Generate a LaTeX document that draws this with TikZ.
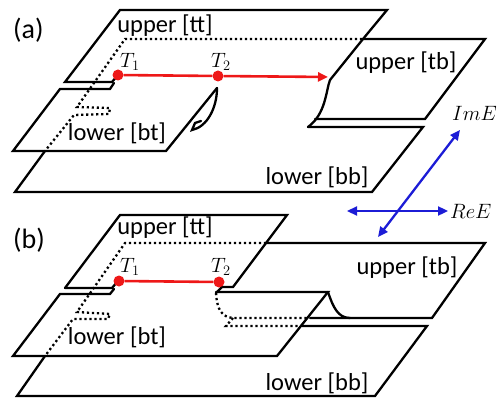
\documentclass[tikz,border=0pt]{standalone}
\usepackage{fontspec}
\setmainfont{Carlito}
\usetikzlibrary{arrows.meta}
\definecolor{cutred}{RGB}{238,24,24}
\definecolor{axblue}{RGB}{28,28,214}
\begin{document}
\begin{tikzpicture}[x=1pt,y=-1pt,
  edge/.style={line width=2.3pt, line join=miter, line cap=round},
  hid/.style={line width=2.3pt, dash pattern=on 2.2pt off 2.8pt},
  cutline/.style={line width=2.6pt, draw=cutred},
  dotpt/.style={circle, fill=cutred, inner sep=0pt, minimum size=11pt},
  axis/.style={line width=2.3pt, draw=axblue, {Triangle[length=10pt,width=9pt]}-{Triangle[length=10pt,width=9pt]}},
  lbl/.style={font=\fontsize{24.5}{26}\selectfont, inner sep=0pt},
  plbl/.style={font=\fontsize{28}{30}\selectfont, inner sep=0pt, anchor=west},
  mlbl/.style={font=\fontsize{22}{24}\selectfont, inner sep=0pt, anchor=base west},
  alabel/.style={font=\fontsize{20.5}{22}\selectfont, inner sep=0pt, anchor=base west},
]
\useasboundingbox (0,0) rectangle (500,398);

% ================= panel (a) =================
\begin{scope}
  % upper [tt]
  \draw[edge] (363,39) -- (387,10) -- (120,10) -- (65,82) -- (112,82) -- (118,75);
  % lower [bt]
  \draw[edge] (114,83) -- (110,89) -- (60,89) -- (13,151) -- (166,151) -- (217,88);
  \draw[edge] (217,88) .. controls (217,108) and (207,127) .. (192,130) -- (195,123) -- (201,121);
  % upper [tb]
  \draw[edge] (330,80) -- (363,39) -- (485,39) -- (425,119) -- (315,119);
  \draw[edge] (330,80) .. controls (326,90) and (326,114) .. (308,127);
  % lower [bb]
  \draw[edge] (308,127) -- (423,127) -- (372,192) -- (15,192) -- (45,151);
  % hidden edges
  \draw[hid] (362,39) -- (125,39) -- (77,107) -- (110,108) -- (109,114) -- (74,115) -- (45,151);
  % branch cut
  \node[dotpt] (aT1) at (118,75) {};
  \node[dotpt] (aT2) at (218,76) {};
  \coordinate (aEnd) at (328,77);
  \draw[cutline] (aT1) -- (aT2);
  \draw[cutline, -{Triangle[length=10pt,width=9pt]}] (aT2) -- (aEnd);
  % labels
  \node[plbl] (alab) at (13,30) {(a)};
  \node[lbl] (att) at (165,26) {upper [tt]};
  \node[lbl] (abt) at (117,133) {lower [bt]};
  \node[lbl] (atb) at (406,63) {upper [tb]};
  \node[lbl] (abb) at (317,177) {lower [bb]};
  \node[mlbl] (aT1l) at (120,67.5) {$T_1$};
  \node[mlbl] (aT2l) at (211,67.5) {$T_2$};
\end{scope}

% ================= axes =================
\coordinate (imA) at (378,237);
\coordinate (imB) at (460,130);
\coordinate (reA) at (347,211);
\coordinate (reB) at (448,211);
\draw[axis] (imA) -- (imB);
\draw[axis] (reA) -- (reB);
\node[alabel] (imE) at (452,121) {$ImE$};
\node[alabel] (reE) at (450,218) {$ReE$};

% ================= panel (b) =================
\begin{scope}[shift={(0,205)}]
  % upper [tt]
  \draw[edge] (65,83) -- (120,10) -- (287,10) -- (233,82) -- (222,82) -- (216,88);
  \draw[edge] (65,83) -- (112,83) -- (118,76);
  % lower [bt]
  \draw[edge] (114,84) -- (110,89) -- (60,89) -- (13,151) -- (277,151) -- (328,87) -- (216,87);
  \draw[edge] (328,87) .. controls (333,102) and (338,113) .. (350,113);
  % upper [tb]
  \draw[edge] (266,38) -- (485,38) -- (432,113) -- (310,113);
  % lower [bb]
  \draw[edge] (302,121) -- (427,121) -- (375,191) -- (17,191) -- (45,151);
  % hidden edges
  \draw[hid] (266,38) -- (125,38) -- (77,107) -- (110,109) -- (108,114) -- (73,114) -- (45,151);
  \draw[hid] (216,88) .. controls (217,105) and (222,112) .. (233,113) -- (308,113);
  \draw[hid] (233,113) -- (226,121) -- (301,121);
  % branch cut
  \node[dotpt] (bT1) at (119,76) {};
  \node[dotpt] (bT2) at (219,77) {};
  \draw[cutline] (bT1) -- (bT2);
  % labels
  \node[plbl] (blab) at (13,35) {(b)};
  \node[lbl] (btt) at (165,23) {upper [tt]};
  \node[lbl] (bbt) at (117,132) {lower [bt]};
  \node[lbl] (btb) at (407,63) {upper [tb]};
  \node[lbl] (bbb) at (317,178) {lower [bb]};
  \node[mlbl] (bT1l) at (120,67.5) {$T_1$};
  \node[mlbl] (bT2l) at (211,67.5) {$T_2$};
\end{scope}
\end{tikzpicture}
\end{document}
